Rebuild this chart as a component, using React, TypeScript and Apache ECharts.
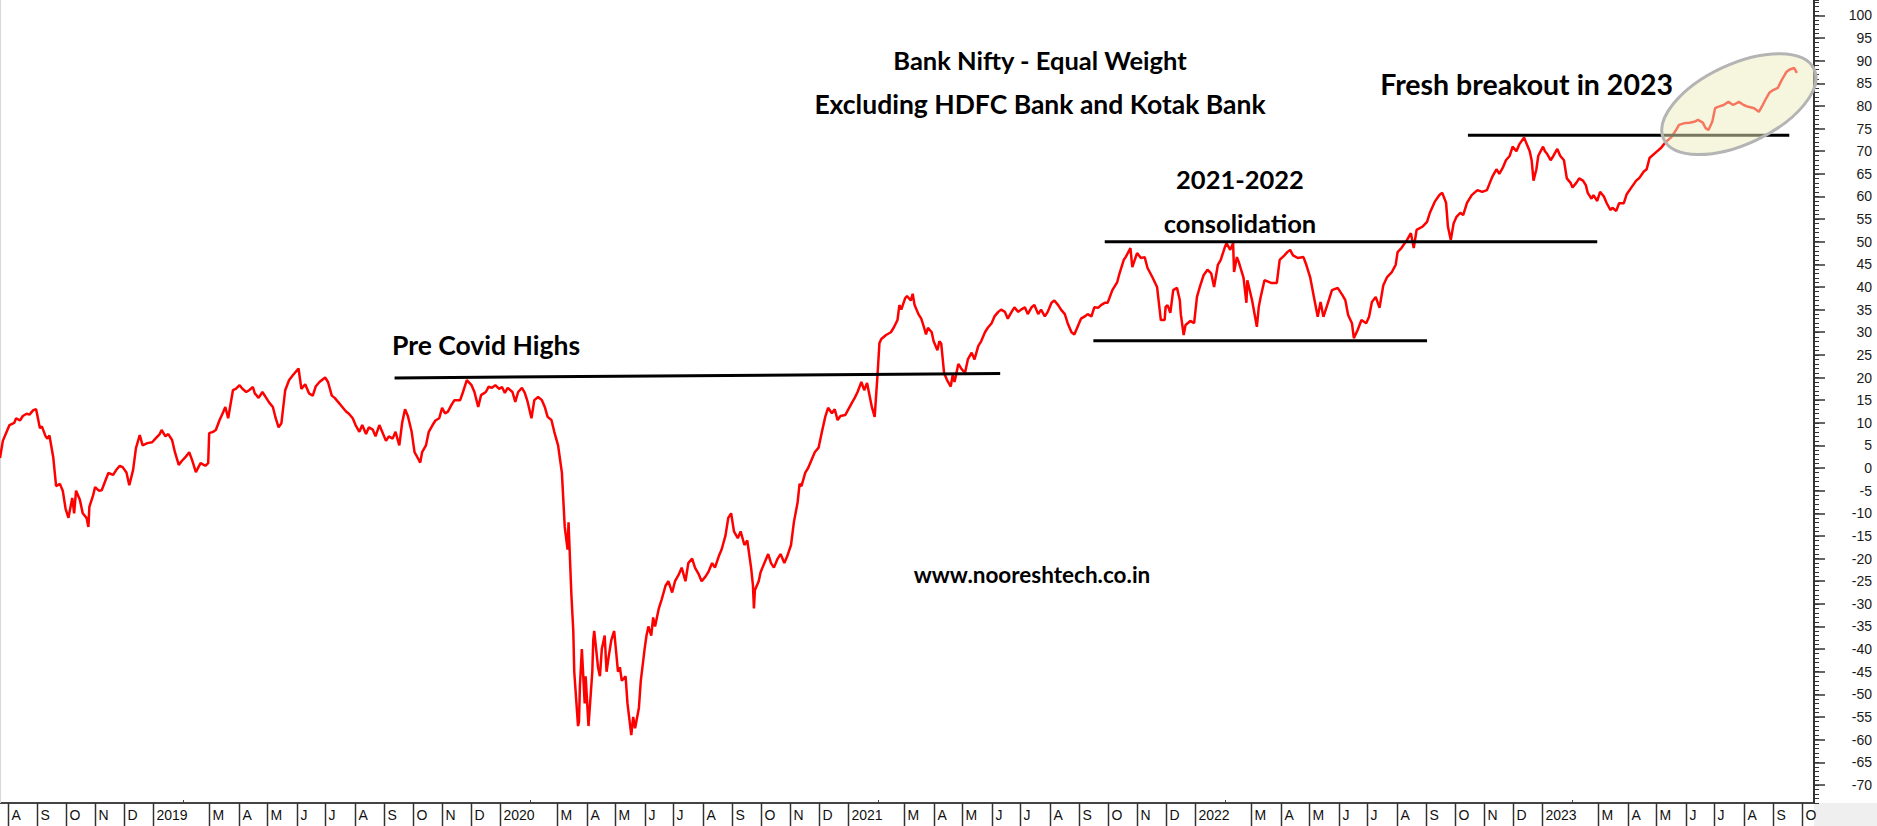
import React, { useEffect, useRef } from "react";
import * as echarts from "echarts";

type P = [string, number];

// ---------- data ----------
const series2018: P[] = [
  ["2018-07-24", 2.2], ["2018-07-27", 6], ["2018-07-31", 8], ["2018-08-03", 9.5], ["2018-08-08", 10],
  ["2018-08-10", 11], ["2018-08-14", 10.5], ["2018-08-17", 11.5], ["2018-08-21", 12], ["2018-08-24", 11.8],
  ["2018-08-28", 12.8], ["2018-08-31", 13], ["2018-09-04", 8.8], ["2018-09-06", 9.2], ["2018-09-10", 7],
  ["2018-09-12", 6.5], ["2018-09-14", 7.2], ["2018-09-18", 2.4], ["2018-09-21", -4], ["2018-09-25", -3.5],
  ["2018-09-28", -5], ["2018-10-01", -9], ["2018-10-04", -11], ["2018-10-08", -6.6], ["2018-10-10", -10],
  ["2018-10-12", -5], ["2018-10-16", -7], ["2018-10-19", -10], ["2018-10-23", -11], ["2018-10-25", -13],
  ["2018-10-26", -8.6], ["2018-10-30", -6], ["2018-11-01", -4.2], ["2018-11-05", -5], ["2018-11-08", -4.9],
  ["2018-11-12", -2.7], ["2018-11-15", -1.1], ["2018-11-20", -1.5], ["2018-11-23", -0.5], ["2018-11-27", 0.5],
  ["2018-11-30", 0.2], ["2018-12-04", -1], ["2018-12-07", -3.8], ["2018-12-11", -0.4], ["2018-12-14", 4.4],
  ["2018-12-18", 7.3], ["2018-12-21", 5], ["2018-12-26", 5.5], ["2018-12-31", 5.7],
];

const series2019: P[] = [
  ["2019-01-04", 6.6], ["2019-01-08", 7.5], ["2019-01-10", 8.4], ["2019-01-14", 7], ["2019-01-17", 7.5],
  ["2019-01-21", 6.2], ["2019-01-24", 3.5], ["2019-01-28", 0.7], ["2019-01-31", 1.5], ["2019-02-04", 2.4],
  ["2019-02-08", 3.5], ["2019-02-11", 1.8], ["2019-02-15", -0.9], ["2019-02-20", 1.1], ["2019-02-25", 0.5],
  ["2019-02-28", 1.1], ["2019-03-01", 7.7], ["2019-03-05", 8], ["2019-03-08", 8.4], ["2019-03-12", 10.6],
  ["2019-03-15", 12], ["2019-03-18", 13.5], ["2019-03-21", 11], ["2019-03-26", 17.2], ["2019-03-29", 17.5],
  ["2019-04-02", 18.3], ["2019-04-05", 17.5], ["2019-04-09", 16.8], ["2019-04-12", 17.2], ["2019-04-16", 17.9],
  ["2019-04-18", 16.5], ["2019-04-22", 15.5], ["2019-04-26", 16.8], ["2019-04-30", 15.5], ["2019-05-03", 14.5],
  ["2019-05-07", 13.5], ["2019-05-10", 11], ["2019-05-13", 9], ["2019-05-16", 9.9], ["2019-05-20", 17.2],
  ["2019-05-24", 19.4], ["2019-05-28", 20.5], ["2019-06-03", 22], ["2019-06-06", 17.5], ["2019-06-10", 18.5],
  ["2019-06-14", 16.5], ["2019-06-18", 16], ["2019-06-21", 18], ["2019-06-25", 19], ["2019-07-01", 20],
  ["2019-07-04", 19], ["2019-07-08", 16], ["2019-07-11", 15.5], ["2019-07-15", 14.5], ["2019-07-19", 13.5],
  ["2019-07-23", 12.5], ["2019-07-26", 12], ["2019-07-30", 11], ["2019-08-02", 9.5], ["2019-08-06", 8],
  ["2019-08-09", 9.5], ["2019-08-13", 7.5], ["2019-08-16", 9], ["2019-08-20", 8.5], ["2019-08-23", 7],
  ["2019-08-27", 9.5], ["2019-08-30", 8], ["2019-09-03", 6], ["2019-09-06", 7], ["2019-09-10", 6.5],
  ["2019-09-13", 8], ["2019-09-17", 5], ["2019-09-20", 10], ["2019-09-23", 13], ["2019-09-26", 11.5],
  ["2019-09-30", 8], ["2019-10-03", 3.5], ["2019-10-07", 2], ["2019-10-09", 1.2], ["2019-10-11", 3.5],
  ["2019-10-15", 5], ["2019-10-18", 8], ["2019-10-22", 9.5], ["2019-10-25", 10.5], ["2019-10-29", 11],
  ["2019-11-01", 13.3], ["2019-11-04", 12.1], ["2019-11-07", 12.4], ["2019-11-11", 14], ["2019-11-14", 15],
  ["2019-11-20", 15], ["2019-11-23", 16.8], ["2019-11-27", 19.4], ["2019-12-02", 18.3], ["2019-12-05", 16.8],
  ["2019-12-09", 13.5], ["2019-12-12", 16.1], ["2019-12-17", 16.8], ["2019-12-20", 18], ["2019-12-23", 17.7],
  ["2019-12-27", 18.3], ["2019-12-31", 17.5],
];

const series2020: P[] = [
  ["2020-01-03", 17.9], ["2020-01-06", 16.6], ["2020-01-09", 17.7], ["2020-01-14", 16.8], ["2020-01-17", 14.6],
  ["2020-01-20", 16.8], ["2020-01-24", 17.7], ["2020-01-27", 16.6], ["2020-01-30", 14.6], ["2020-02-03", 11],
  ["2020-02-06", 15], ["2020-02-10", 15.7], ["2020-02-14", 15], ["2020-02-17", 13.5], ["2020-02-20", 11.3],
  ["2020-02-24", 10.6], ["2020-02-27", 8], ["2020-03-02", 5], ["2020-03-04", 2], ["2020-03-06", -1],
  ["2020-03-09", -13], ["2020-03-12", -18], ["2020-03-13", -12], ["2020-03-16", -28], ["2020-03-18", -36],
  ["2020-03-19", -45], ["2020-03-23", -57], ["2020-03-24", -56], ["2020-03-25", -48], ["2020-03-26", -44],
  ["2020-03-27", -40], ["2020-03-30", -52], ["2020-03-31", -46], ["2020-04-03", -57], ["2020-04-07", -45],
  ["2020-04-08", -38], ["2020-04-09", -36], ["2020-04-13", -44], ["2020-04-15", -46], ["2020-04-17", -40],
  ["2020-04-20", -37], ["2020-04-22", -45], ["2020-04-24", -42], ["2020-04-27", -38], ["2020-04-30", -36],
  ["2020-05-04", -45], ["2020-05-06", -44], ["2020-05-08", -47], ["2020-05-12", -46], ["2020-05-14", -52],
  ["2020-05-18", -59], ["2020-05-20", -55], ["2020-05-22", -57.5], ["2020-05-26", -53], ["2020-05-28", -47],
  ["2020-06-01", -40], ["2020-06-03", -37], ["2020-06-05", -35], ["2020-06-08", -37], ["2020-06-10", -33],
  ["2020-06-12", -35], ["2020-06-16", -31], ["2020-06-19", -29], ["2020-06-23", -26], ["2020-06-26", -25],
  ["2020-06-30", -27.5], ["2020-07-03", -25], ["2020-07-07", -23.5], ["2020-07-10", -22], ["2020-07-14", -25],
  ["2020-07-17", -21], ["2020-07-21", -20], ["2020-07-24", -22], ["2020-07-28", -23.5], ["2020-07-31", -25],
  ["2020-08-04", -24], ["2020-08-07", -23], ["2020-08-11", -21], ["2020-08-14", -22], ["2020-08-18", -19.5],
  ["2020-08-21", -18], ["2020-08-25", -15], ["2020-08-28", -11], ["2020-08-31", -10], ["2020-09-03", -14],
  ["2020-09-07", -15.5], ["2020-09-10", -14], ["2020-09-14", -17], ["2020-09-17", -16], ["2020-09-21", -22],
  ["2020-09-23", -26], ["2020-09-24", -31], ["2020-09-25", -27], ["2020-09-29", -25], ["2020-10-01", -23],
  ["2020-10-05", -21], ["2020-10-09", -19], ["2020-10-12", -21], ["2020-10-15", -22], ["2020-10-19", -20],
  ["2020-10-22", -19], ["2020-10-26", -21], ["2020-10-29", -19.5], ["2020-11-02", -17], ["2020-11-05", -12],
  ["2020-11-09", -7.5], ["2020-11-11", -3.5], ["2020-11-13", -4], ["2020-11-17", -1], ["2020-11-20", 0],
  ["2020-11-24", 2], ["2020-11-27", 3.5], ["2020-12-01", 4.5], ["2020-12-04", 7.5], ["2020-12-08", 11.3],
  ["2020-12-11", 13.3], ["2020-12-15", 12.1], ["2020-12-18", 13], ["2020-12-21", 10.6], ["2020-12-24", 11.5],
  ["2020-12-29", 11.7],
];

const series2021: P[] = [
  ["2021-01-05", 14.4], ["2021-01-08", 15.5], ["2021-01-11", 16.8], ["2021-01-15", 19], ["2021-01-18", 17.2],
  ["2021-01-21", 18.8], ["2021-01-26", 13.5], ["2021-01-29", 11.3], ["2021-02-01", 20.6], ["2021-02-03", 27.6],
  ["2021-02-05", 28.5], ["2021-02-10", 29.4], ["2021-02-15", 30], ["2021-02-18", 31], ["2021-02-22", 32.7],
  ["2021-02-24", 36], ["2021-02-26", 35], ["2021-03-02", 37.5], ["2021-03-04", 38], ["2021-03-08", 37],
  ["2021-03-10", 38.5], ["2021-03-12", 36], ["2021-03-16", 34], ["2021-03-19", 33], ["2021-03-22", 31],
  ["2021-03-24", 29.5], ["2021-03-26", 31], ["2021-03-30", 30], ["2021-04-01", 28], ["2021-04-05", 26],
  ["2021-04-07", 28], ["2021-04-09", 27.5], ["2021-04-12", 21], ["2021-04-15", 19.5], ["2021-04-19", 18],
  ["2021-04-21", 20.5], ["2021-04-23", 19], ["2021-04-27", 23], ["2021-04-30", 22], ["2021-05-04", 21],
  ["2021-05-07", 24], ["2021-05-11", 25.5], ["2021-05-14", 24], ["2021-05-18", 27], ["2021-05-21", 28],
  ["2021-05-25", 30], ["2021-05-28", 31], ["2021-06-01", 32], ["2021-06-04", 33.5], ["2021-06-08", 34.5],
  ["2021-06-11", 35], ["2021-06-15", 34.5], ["2021-06-18", 33], ["2021-06-22", 34.5], ["2021-06-25", 35.5],
  ["2021-06-29", 34.5], ["2021-07-02", 35], ["2021-07-06", 35.5], ["2021-07-09", 34], ["2021-07-13", 35.5],
  ["2021-07-16", 36], ["2021-07-20", 34], ["2021-07-23", 35], ["2021-07-27", 33.5], ["2021-07-30", 34.5],
  ["2021-08-03", 36.5], ["2021-08-06", 37], ["2021-08-10", 36], ["2021-08-13", 35], ["2021-08-17", 34],
  ["2021-08-20", 32], ["2021-08-24", 30], ["2021-08-27", 29.5], ["2021-08-31", 31.5], ["2021-09-03", 33],
  ["2021-09-07", 33.5], ["2021-09-10", 34], ["2021-09-14", 33.5], ["2021-09-17", 35.5], ["2021-09-21", 35.4],
  ["2021-09-24", 36], ["2021-09-28", 36.5], ["2021-10-01", 36.5], ["2021-10-06", 39.3], ["2021-10-11", 41],
  ["2021-10-13", 42.6], ["2021-10-18", 46], ["2021-10-20", 46.6], ["2021-10-25", 48.6], ["2021-10-27", 44.4],
  ["2021-11-01", 47.5], ["2021-11-05", 46.4], ["2021-11-09", 46.6], ["2021-11-12", 44.2], ["2021-11-17", 42.2],
  ["2021-11-22", 40], ["2021-11-26", 32.7], ["2021-11-30", 32.7], ["2021-12-01", 35.6], ["2021-12-03", 36],
  ["2021-12-06", 34.3], ["2021-12-09", 39.3], ["2021-12-13", 39.8], ["2021-12-16", 37], ["2021-12-17", 34],
  ["2021-12-20", 29.4], ["2021-12-22", 31.6], ["2021-12-27", 32.5], ["2021-12-31", 32],
];

const series2022: P[] = [
  ["2022-01-03", 37.8], ["2022-01-06", 40], ["2022-01-10", 42.6], ["2022-01-14", 43.8], ["2022-01-18", 43],
  ["2022-01-21", 40], ["2022-01-25", 44.9], ["2022-01-28", 46], ["2022-02-01", 48.6], ["2022-02-03", 49.7],
  ["2022-02-07", 48.2], ["2022-02-10", 49.7], ["2022-02-11", 43.3], ["2022-02-14", 46.6], ["2022-02-16", 45.5],
  ["2022-02-21", 42], ["2022-02-24", 36.5], ["2022-02-25", 41.5], ["2022-03-02", 37], ["2022-03-07", 31.2],
  ["2022-03-09", 35.6], ["2022-03-11", 37.8], ["2022-03-15", 41.5], ["2022-03-22", 40.9], ["2022-03-28", 40.9],
  ["2022-03-31", 46], ["2022-04-05", 47], ["2022-04-08", 47.7], ["2022-04-11", 48.2], ["2022-04-14", 47],
  ["2022-04-19", 46.4], ["2022-04-25", 46.6], ["2022-04-28", 44.9], ["2022-05-02", 42.2], ["2022-05-06", 37.8],
  ["2022-05-10", 33.4], ["2022-05-13", 36.7], ["2022-05-16", 33.4], ["2022-05-20", 36], ["2022-05-25", 39.3],
  ["2022-05-31", 39.8], ["2022-06-05", 38.2], ["2022-06-08", 37.1], ["2022-06-11", 33.8], ["2022-06-15", 32],
  ["2022-06-17", 28.7], ["2022-06-21", 30.5], ["2022-06-25", 32.7], ["2022-06-30", 32], ["2022-07-03", 33.4],
  ["2022-07-06", 36.7], ["2022-07-10", 37.8], ["2022-07-14", 35.4], ["2022-07-18", 40.4], ["2022-07-22", 42.2],
  ["2022-07-27", 43.3], ["2022-07-31", 44.9], ["2022-08-02", 47.7], ["2022-08-06", 48.6], ["2022-08-12", 50.4],
  ["2022-08-16", 51.9], ["2022-08-19", 48.6], ["2022-08-22", 52.6], ["2022-08-28", 53.3], ["2022-09-02", 54.4],
  ["2022-09-05", 56.4], ["2022-09-10", 58.8], ["2022-09-15", 60.3], ["2022-09-18", 60.8], ["2022-09-22", 58.6],
  ["2022-09-24", 53.3], ["2022-09-27", 50.4], ["2022-09-30", 54.1], ["2022-10-03", 55.5], ["2022-10-07", 56.4],
  ["2022-10-10", 55.9], ["2022-10-14", 58.6], ["2022-10-19", 60.3], ["2022-10-25", 61.4], ["2022-10-30", 61],
  ["2022-11-04", 61.4], ["2022-11-07", 63], ["2022-11-10", 64.5], ["2022-11-14", 66], ["2022-11-17", 65],
  ["2022-11-21", 66.5], ["2022-11-24", 68], ["2022-11-28", 69], ["2022-12-01", 71], ["2022-12-05", 70],
  ["2022-12-08", 71.5], ["2022-12-13", 73], ["2022-12-15", 72], ["2022-12-19", 70], ["2022-12-21", 68],
  ["2022-12-23", 63.5], ["2022-12-26", 66], ["2022-12-28", 69],
];

const series2023: P[] = [
  ["2023-01-02", 71], ["2023-01-04", 70], ["2023-01-06", 69.5], ["2023-01-10", 68], ["2023-01-13", 69],
  ["2023-01-17", 70.5], ["2023-01-20", 69], ["2023-01-24", 68], ["2023-01-27", 64], ["2023-01-31", 63],
  ["2023-02-02", 62], ["2023-02-06", 63], ["2023-02-09", 64], ["2023-02-13", 63.5], ["2023-02-16", 62.5],
  ["2023-02-18", 60.8], ["2023-02-22", 59.5], ["2023-02-24", 60.3], ["2023-02-28", 59], ["2023-03-03", 61],
  ["2023-03-07", 60], ["2023-03-10", 58.5], ["2023-03-14", 57], ["2023-03-16", 57.5], ["2023-03-20", 56.8],
  ["2023-03-23", 58.5], ["2023-03-28", 58.5], ["2023-03-31", 60.5], ["2023-04-05", 62], ["2023-04-10", 63.5],
  ["2023-04-13", 64], ["2023-04-18", 65.5], ["2023-04-21", 66], ["2023-04-24", 68.5], ["2023-05-01", 69.8],
  ["2023-05-06", 70.7], ["2023-05-11", 72], ["2023-05-17", 73.1], ["2023-05-22", 74.7], ["2023-05-25", 75.8],
  ["2023-05-31", 76.2], ["2023-06-05", 76.3], ["2023-06-10", 76.5], ["2023-06-14", 76.9], ["2023-06-19", 76.3],
  ["2023-06-22", 75.1], ["2023-06-25", 74.7], ["2023-06-29", 76.5], ["2023-07-02", 79.5], ["2023-07-05", 79.8],
  ["2023-07-11", 80.2], ["2023-07-16", 80.9], ["2023-07-21", 80.2], ["2023-07-27", 80.9], ["2023-08-01", 80.2],
  ["2023-08-06", 79.8], ["2023-08-12", 79.5], ["2023-08-17", 78.7], ["2023-08-21", 80.2], ["2023-08-25", 81.8],
  ["2023-08-28", 82.9], ["2023-09-01", 83.5], ["2023-09-06", 84], ["2023-09-10", 85.7], ["2023-09-15", 87.5],
  ["2023-09-18", 88], ["2023-09-23", 88.4], ["2023-09-26", 87.3],
];

// annotation lines (date, value)
const preCovidLine: P[] = [["2019-09-12", 19.9], ["2021-06-10", 20.9]];
const consolidationTop: P[] = [["2021-09-28", 50], ["2023-02-28", 50]];
const consolidationBottom: P[] = [["2021-09-16", 28.1], ["2022-09-02", 28.1]];
const breakoutLine: P[] = [["2022-10-15", 73.5], ["2023-09-18", 73.5]];
const ellipseCenter: P = ["2023-07-27", 80.4];

// axes
const xStart = "2018-07-24";
const xEnd = "2023-10-14";
const yMin = -74;
const yMax = 103.4;
const yLabelValues = [-70, -65, -60, -55, -50, -45, -40, -35, -30, -25, -20, -15, -10, -5, 0, 5, 10, 15, 20, 25, 30, 35, 40, 45, 50, 55, 60, 65, 70, 75, 80, 85, 90, 95, 100];
const monthLetters = ["J", "F", "M", "A", "M", "J", "J", "A", "S", "O", "N", "D"];

// annotation texts
const titleLine1 = "Bank Nifty - Equal Weight";
const titleLine2 = "Excluding HDFC Bank and Kotak Bank";
const breakoutText = "Fresh breakout in 2023";
const consolidationYears = "2021-2022";
const consolidationText = "consolidation";
const preCovidText = "Pre Covid Highs";
const siteText = "www.nooreshtech.co.in";

const AXIS_FONT = '"Liberation Sans", Arial, sans-serif';
const NOTE_FONT = 'Lato, "Open Sans", sans-serif';

const toTs = (s: string) => {
  const [y, m, d] = s.split("-").map(Number);
  return new Date(y, m - 1, d).getTime();
};
const toData = (arr: P[]) => arr.map(([d, v]) => [toTs(d), v]);

export default function App() {
  const ref = useRef<HTMLDivElement>(null);

  useEffect(() => {
    document.body.style.margin = "0";
    if (!ref.current) return;
    const chart = echarts.init(ref.current, undefined, { renderer: "svg" });

    const allData = [...series2018, ...series2019, ...series2020, ...series2021, ...series2022, ...series2023];
    const lineStyleBlack = { color: "#000", width: 3 };
    const annot = (arr: P[]) => ({
      type: "line",
      data: toData(arr),
      showSymbol: false,
      silent: true,
      z: 3,
      lineStyle: lineStyleBlack,
    });

    chart.setOption({
      animation: false,
      backgroundColor: "#ffffff",
      grid: { left: 0, right: 63, top: 0, bottom: 23, containLabel: false },
      xAxis: {
        type: "time",
        min: toTs(xStart),
        max: toTs(xEnd),
        show: false,
      },
      yAxis: [
        {
          type: "value",
          position: "right",
          min: yMin,
          max: yMax,
          splitLine: { show: false },
          axisLine: { show: true, lineStyle: { color: "#333", width: 2 } },
          axisTick: { show: true, length: 11, lineStyle: { color: "#333", width: 1.5 }, customValues: yLabelValues },
          axisLabel: {
            show: true,
            customValues: yLabelValues,
            align: "right",
            margin: 58,
            fontFamily: AXIS_FONT,
            fontSize: 14,
            color: "#1a1a1a",
          },
        },
        {
          type: "value",
          position: "right",
          min: yMin,
          max: yMax,
          interval: 1,
          splitLine: { show: false },
          axisLine: { show: false },
          axisTick: { show: true, length: 5, lineStyle: { color: "#333", width: 1 } },
          axisLabel: { show: false },
        },
      ],
      series: [
        {
          type: "line",
          data: toData(allData),
          showSymbol: false,
          silent: true,
          z: 2,
          lineStyle: { color: "#ff0000", width: 2.5 },
        },
        annot(preCovidLine),
        annot(consolidationTop),
        annot(consolidationBottom),
        annot(breakoutLine),
      ],
    });

    // ---- bottom month band and annotations, positioned through the axes ----
    const px = (ts: number) => chart.convertToPixel({ xAxisIndex: 0 }, ts) as number;
    const bandTop = chart.convertToPixel({ yAxisIndex: 0 }, yMin) as number;
    const plotRight = chart.getWidth() - 63;
    const H = chart.getHeight();
    const W = chart.getWidth();
    const g: any[] = [];

    g.push({ type: "rect", shape: { x: 0, y: bandTop, width: plotRight, height: H - bandTop }, style: { fill: "#ffffff" }, silent: true });
    g.push({ type: "rect", shape: { x: plotRight, y: bandTop, width: W - plotRight, height: H - bandTop }, style: { fill: "#efefef" }, silent: true });
    g.push({ type: "line", shape: { x1: 0, y1: bandTop, x2: plotRight, y2: bandTop }, style: { stroke: "#444", lineWidth: 2 }, silent: true });
    g.push({ type: "line", shape: { x1: 0.5, y1: 0, x2: 0.5, y2: bandTop }, style: { stroke: "#d8d8d8", lineWidth: 1 }, silent: true });

    const startD = new Date(toTs(xStart));
    const endTs = toTs(xEnd);
    let y = startD.getFullYear();
    let m = startD.getMonth() + 1;
    while (true) {
      const ts = new Date(y, m, 1).getTime();
      if (ts > endTs) break;
      const x = Math.round(px(ts)) + 0.5;
      if (m === 1) {
        g.push({ type: "line", shape: { x1: x, y1: bandTop - 3, x2: x, y2: bandTop }, style: { stroke: "#444", lineWidth: 1 }, silent: true });
      } else {
        g.push({ type: "line", shape: { x1: x, y1: bandTop, x2: x, y2: H }, style: { stroke: "#333", lineWidth: 1.5 }, silent: true });
        g.push({
          type: "text",
          x: x + 3,
          y: bandTop + 12,
          silent: true,
          style: {
            text: m === 0 ? String(y) : monthLetters[m],
            fontFamily: AXIS_FONT,
            fontSize: 14,
            fill: "#111",
            align: "left",
            verticalAlign: "middle",
          },
        });
      }
      m += 1;
      if (m > 11) { m = 0; y += 1; }
    }

    const note = (text: string, x: number, baseline: number, align: string, size: number) => ({
      type: "text",
      x,
      y: baseline - size * 0.38,
      silent: true,
      z: 20,
      style: { text, fontFamily: NOTE_FONT, fontWeight: "bold", fontSize: size, fill: "#000", align, verticalAlign: "middle" },
    });
    g.push(note(titleLine1, 1040, 70, "center", 25.5));
    g.push(note(titleLine2, 1040, 114, "center", 26.5));
    g.push(note(breakoutText, 1673, 95, "right", 28.5));
    g.push(note(consolidationYears, 1240, 189, "center", 25.5));
    g.push(note(consolidationText, 1240, 233, "center", 25.5));
    g.push(note(preCovidText, 392, 355, "left", 26.5));
    g.push(note(siteText, 1032, 583, "center", 22.5));

    const c = chart.convertToPixel({ xAxisIndex: 0, yAxisIndex: 0 }, [toTs(ellipseCenter[0]), ellipseCenter[1]]) as number[];
    g.push({
      type: "ellipse",
      x: c[0],
      y: c[1],
      rotation: (25 * Math.PI) / 180,
      z: 15,
      silent: true,
      shape: { cx: 0, cy: 0, rx: 83, ry: 40 },
      style: { fill: "rgba(238,238,190,0.5)", stroke: "#b4b4b4", lineWidth: 3 },
    });

    chart.setOption({ graphic: g });

    return () => chart.dispose();
  }, []);

  return <div ref={ref} style={{ width: 1877, height: 826 }} />;
}
